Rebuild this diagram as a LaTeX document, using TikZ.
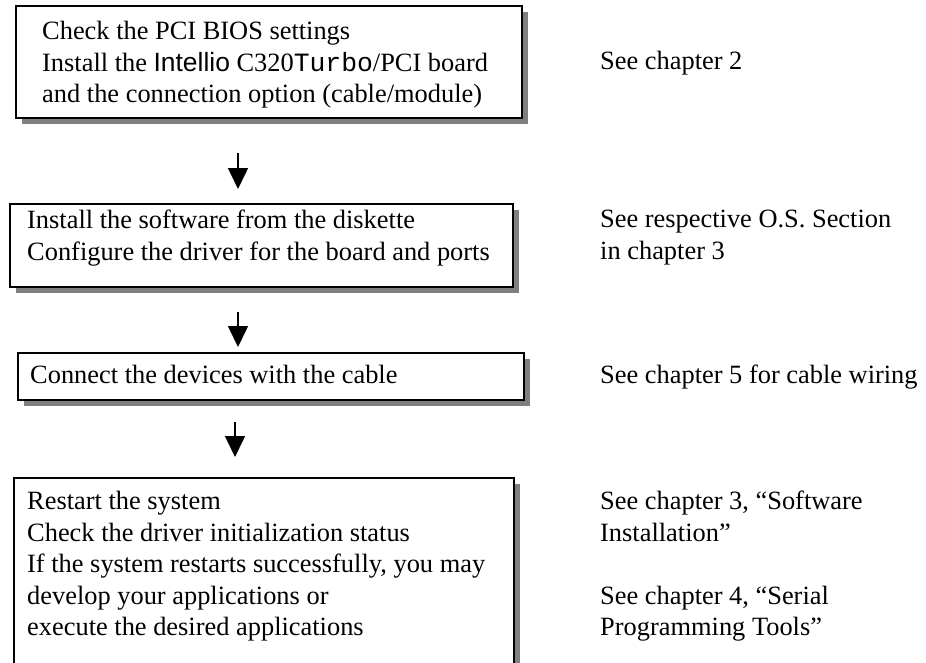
\documentclass[tikz,border=0pt]{standalone}
\usepackage{fontspec}
\setmainfont{Liberation Serif}
\newfontfamily\helvf{Liberation Sans}
\newfontfamily\courf{Liberation Mono}
\usetikzlibrary{arrows.meta,shadows}
\definecolor{shadowgray}{RGB}{128,128,128}
\begin{document}
\begin{tikzpicture}[x=1pt,y=-1pt,
  box/.style={draw=black, line width=2pt, fill=white, anchor=north west, inner sep=0pt,
    drop shadow={shadow xshift=6pt, shadow yshift=-6pt, fill=shadowgray, opacity=1}},
  txt/.style={anchor=north west, inner sep=0pt, align=left,
    font=\fontsize{26.4}{31.5}\selectfont},
  arr/.style={line width=1.6pt, -{Triangle[width=20pt,length=21pt]}}]
\clip (0,0) rectangle (926,662);
% boxes
\node[box, minimum width=506pt, minimum height=112pt] (b1) at (15,5) {};
\node[box, minimum width=503pt, minimum height=83pt] (b2) at (9,203) {};
\node[box, minimum width=506pt, minimum height=47pt] (b3) at (17,352) {};
\node[box, minimum width=500pt, minimum height=260pt] (b4) at (13,477) {};
% box texts
\node[txt] (t1) at (42,21) {Check the PCI BIOS settings\\
  Install the {\helvf Intellio} C320{\courf Turbo}/PCI board\\
  and the connection option (cable/module)};
\node[txt] (t2) at (27,210) {Install the software from the diskette\\
  Configure the driver for the board and ports};
\node[txt] (t3) at (30,365) {Connect the devices with the cable};
\node[txt] (t4) at (27,491) {Restart the system\\
  Check the driver initialization status\\
  If the system restarts successfully, you may\\
  develop your applications or\\
  execute the desired applications};
% right texts
\node[txt] (r1) at (600,51) {See chapter 2};
\node[txt] (r2) at (600,210) {See respective O.S. Section\\in chapter 3};
\node[txt] (r3) at (600,365) {See chapter 5 for cable wiring};
\node[txt] (r4) at (600,491) {See chapter 3, “Software\\Installation”};
\node[txt] (r5) at (600,585.5) {See chapter 4, “Serial\\Programming Tools”};
% arrows
\coordinate (a1s) at (238,153);
\coordinate (a1e) at (238,189);
\coordinate (a2s) at (238,312);
\coordinate (a2e) at (238,347);
\coordinate (a3s) at (235,422);
\coordinate (a3e) at (235,457);
\draw[arr] (a1s) -- (a1e);
\draw[arr] (a2s) -- (a2e);
\draw[arr] (a3s) -- (a3e);
\end{tikzpicture}
\end{document}
